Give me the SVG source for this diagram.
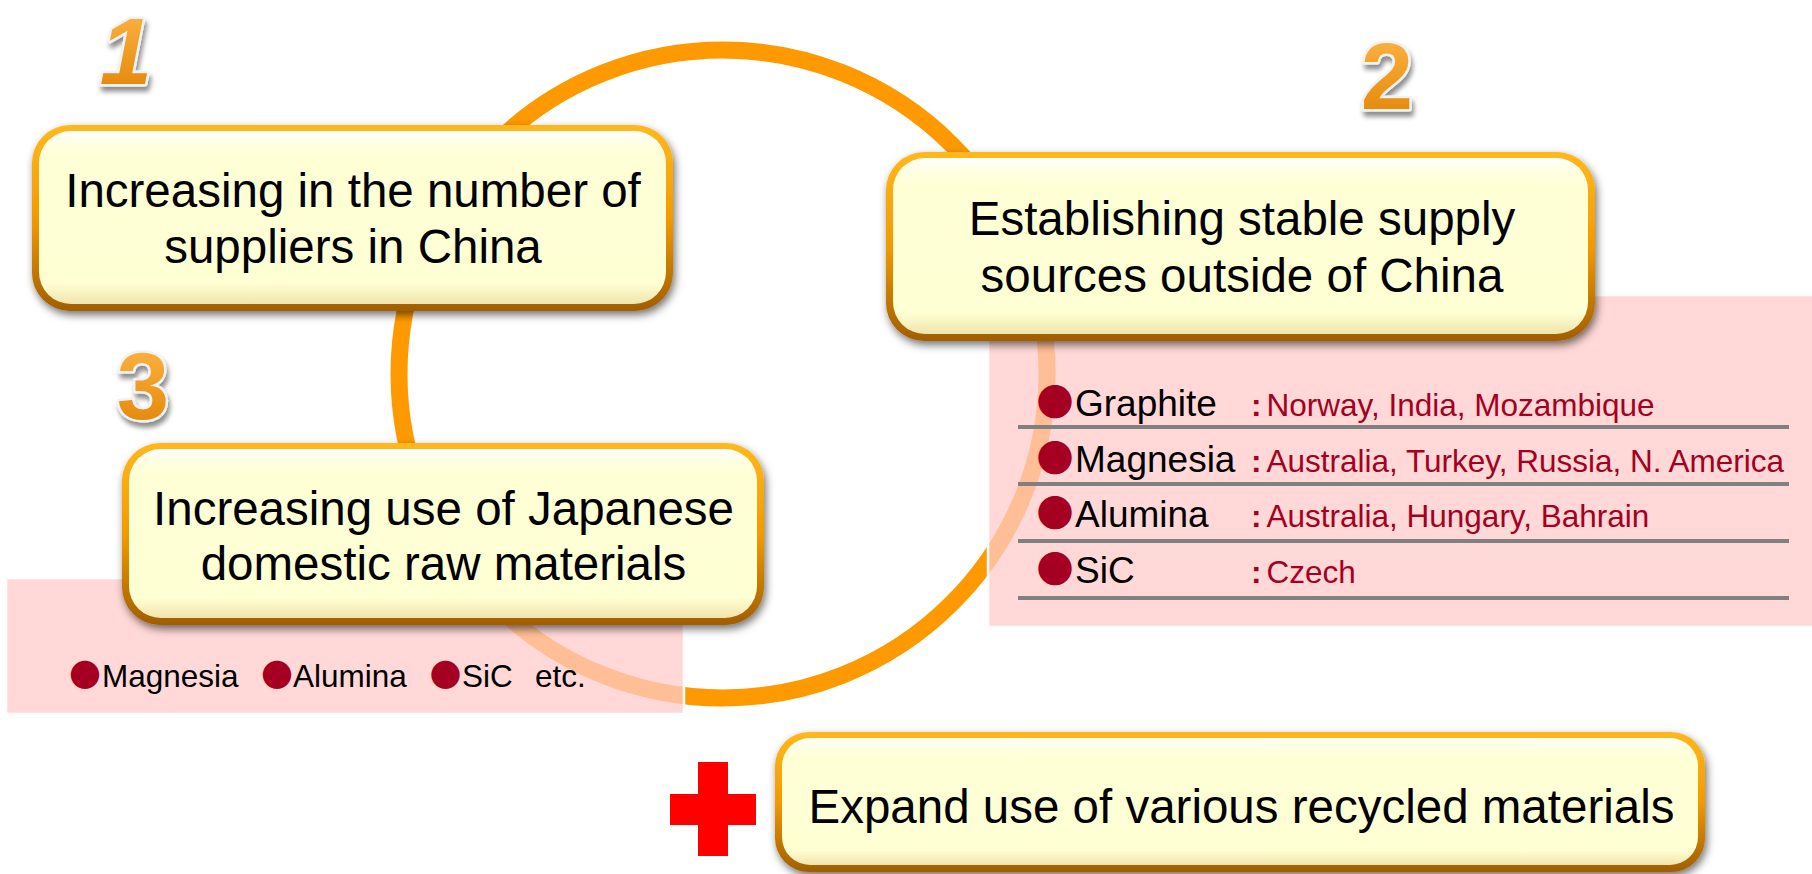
<svg xmlns="http://www.w3.org/2000/svg" width="1812" height="874" viewBox="0 0 1812 874">
<defs>
<style>
.t{font-family:"Liberation Sans",Arial,sans-serif;font-size:47.5px;fill:#000;text-anchor:middle}
.lw{font-family:"Liberation Sans",Arial,sans-serif;font-size:37px;fill:#000}
.lr{font-family:"Liberation Sans",Arial,sans-serif;font-size:31.5px;fill:#A50021}
.lb{font-family:"Liberation Sans",Arial,sans-serif;font-size:31.5px;fill:#000}
.bul{font-family:"Noto Sans CJK JP","DejaVu Sans",sans-serif;fill:#A50021;text-anchor:middle}
.dg{font-family:"Liberation Sans",Arial,sans-serif;font-weight:bold;font-size:94px;fill:url(#dgr);stroke:#F2F2F2;stroke-width:5;paint-order:stroke;stroke-linejoin:round;text-anchor:middle}
.pink{fill:#FFCBC9;fill-opacity:0.74;stroke:#FFFFFF;stroke-width:2.5}
.sep{stroke:#808080;stroke-width:4}
</style>
<linearGradient id="bord" x1="0" y1="0" x2="0" y2="1">
<stop offset="0" stop-color="#FFB81C"/>
<stop offset="0.5" stop-color="#F29A00"/>
<stop offset="1" stop-color="#A05E00"/>
</linearGradient>
<linearGradient id="cream" x1="0" y1="0" x2="0" y2="1">
<stop offset="0" stop-color="#FFFFFF"/>
<stop offset="0.07" stop-color="#FFFFE2"/>
<stop offset="0.15" stop-color="#FFFFD6"/>
<stop offset="0.88" stop-color="#FFFFD4"/>
<stop offset="1" stop-color="#F0E4AC"/>
</linearGradient>
<linearGradient id="dgr" x1="0" y1="0" x2="0" y2="1">
<stop offset="0" stop-color="#FFB84A"/>
<stop offset="1" stop-color="#E08200"/>
</linearGradient>
<filter id="shadow" x="-10%" y="-15%" width="120%" height="140%">
<feGaussianBlur in="SourceAlpha" stdDeviation="4"/>
<feOffset dx="2" dy="4" result="b"/>
<feFlood flood-color="#000" flood-opacity="0.55"/>
<feComposite in2="b" operator="in"/>
<feMerge><feMergeNode/><feMergeNode in="SourceGraphic"/></feMerge>
</filter>
<filter id="dshadow" x="-30%" y="-30%" width="160%" height="160%">
<feGaussianBlur in="SourceAlpha" stdDeviation="2.5"/>
<feOffset dx="2" dy="5" result="b"/>
<feFlood flood-color="#000" flood-opacity="0.45"/>
<feComposite in2="b" operator="in"/>
<feMerge><feMergeNode/><feMergeNode in="SourceGraphic"/></feMerge>
</filter>
</defs>
<rect width="1812" height="874" fill="#FFFFFF"/>

<g id="connectors">
<circle cx="723" cy="374" r="324" fill="none" stroke="#FF9900" stroke-width="17"/>
</g>

<g id="list-domestic">
<rect class="pink" x="6" y="578" width="678" height="136"/>
<text class="bul" font-size="31.5" x="85" y="687">●</text>
<text class="lb" x="102" y="687">Magnesia</text>
<text class="bul" font-size="31.5" x="277" y="687">●</text>
<text class="lb" x="293" y="687">Alumina</text>
<text class="bul" font-size="31.5" x="445.5" y="687">●</text>
<text class="lb" x="462" y="687">SiC</text>
<text class="lb" x="535" y="687">etc.</text>
</g>

<g id="list-overseas">
<rect class="pink" x="988" y="295" width="830" height="332"/>
<line class="sep" x1="1018" y1="427" x2="1789" y2="427"/>
<line class="sep" x1="1018" y1="484" x2="1789" y2="484"/>
<line class="sep" x1="1018" y1="541" x2="1789" y2="541"/>
<line class="sep" x1="1018" y1="598" x2="1789" y2="598"/>
<text class="bul" font-size="37" x="1055" y="416">●</text>
<text class="lw" x="1075" y="416">Graphite</text>
<text class="lr" x="1251" y="416" font-weight="bold">:</text>
<text class="lr" x="1266.5" y="416">Norway, India, Mozambique</text>
<text class="bul" font-size="37" x="1055" y="472">●</text>
<text class="lw" x="1075" y="472">Magnesia</text>
<text class="lr" x="1251" y="472" font-weight="bold">:</text>
<text class="lr" x="1266.5" y="472">Australia, Turkey, Russia, N. America</text>
<text class="bul" font-size="37" x="1055" y="527">●</text>
<text class="lw" x="1075" y="527">Alumina</text>
<text class="lr" x="1251" y="527" font-weight="bold">:</text>
<text class="lr" x="1266.5" y="527">Australia, Hungary, Bahrain</text>
<text class="bul" font-size="37" x="1055" y="583">●</text>
<text class="lw" x="1075" y="583">SiC</text>
<text class="lr" x="1251" y="583" font-weight="bold">:</text>
<text class="lr" x="1266.5" y="583">Czech</text>
</g>

<g id="node1">
<g filter="url(#shadow)">
<rect x="32" y="125" width="641" height="186" rx="38" fill="url(#bord)"/>
<rect x="39" y="131" width="627" height="173" rx="32" fill="url(#cream)"/>
</g>
<text class="t" x="353" y="207">Increasing in the number of</text>
<text class="t" x="353" y="263">suppliers in China</text>
</g>

<g id="node2">
<g filter="url(#shadow)">
<rect x="886" y="152" width="709" height="189" rx="38" fill="url(#bord)"/>
<rect x="893" y="158" width="695" height="176" rx="32" fill="url(#cream)"/>
</g>
<text class="t" x="1242" y="235">Establishing stable supply</text>
<text class="t" x="1242" y="292">sources outside of China</text>
</g>

<g id="node3">
<g filter="url(#shadow)">
<rect x="122" y="443" width="642" height="182" rx="38" fill="url(#bord)"/>
<rect x="129" y="449" width="628" height="169" rx="32" fill="url(#cream)"/>
</g>
<text class="t" x="443.5" y="525">Increasing use of Japanese</text>
<text class="t" x="443.5" y="580">domestic raw materials</text>
</g>

<g id="node4">
<g filter="url(#shadow)">
<rect x="775" y="732" width="930" height="140" rx="34" fill="url(#bord)"/>
<rect x="782" y="738" width="916" height="127" rx="28" fill="url(#cream)"/>
</g>
<text class="t" x="1241.5" y="823">Expand use of various recycled materials</text>
</g>

<g id="numbers" filter="url(#dshadow)">
<text class="dg" x="126" y="84" font-size="88" font-style="italic">1</text>
<text class="dg" x="1387" y="109">2</text>
<text class="dg" x="143" y="419">3</text>
</g>

<g id="plus">
<rect x="698" y="762" width="30" height="94" fill="#FF0000"/>
<rect x="670" y="794" width="86" height="31" fill="#FF0000"/>
</g>
</svg>
